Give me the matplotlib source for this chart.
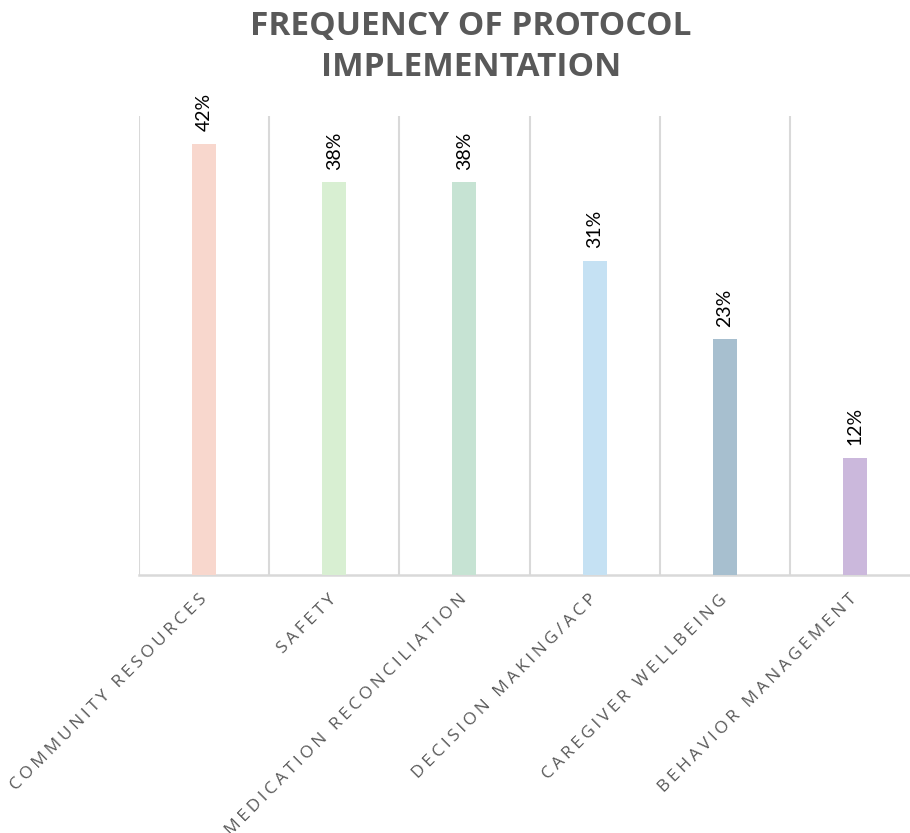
import matplotlib
matplotlib.use("Agg")
import matplotlib.pyplot as plt
import numpy as np

# Share of sessions in which each protocol was implemented (%)
categories = [
    "COMMUNITY RESOURCES",
    "SAFETY",
    "MEDICATION RECONCILIATION",
    "DECISION MAKING/ACP",
    "CAREGIVER WELLBEING",
    "BEHAVIOR MANAGEMENT",
]
values = [42.3, 38.5, 38.5, 30.8, 23.1, 11.5]
bar_colors = ["#F8D7CD", "#D8EFD2", "#C6E3D3", "#C5E1F3", "#A7BFCF", "#CBB8DC"]

GRID = "#D9D9D9"
TEXT = "#595959"
SPACE = "\u200a"


def spaced(s, n=1):
    return (SPACE * n).join(s)


fig = plt.figure(figsize=(9.10, 8.33), dpi=100)
ax = fig.add_axes([139 / 910, 1 - 575 / 833, 781 / 910, 459 / 833])

x = np.arange(len(categories))
ax.bar(x, values, width=0.184, color=bar_colors, zorder=3)

ax.set_xlim(-0.5, len(categories) - 0.5)
ax.set_ylim(0, 45)

# vertical separators between categories
for b in np.arange(-0.5, len(categories), 1.0):
    ax.axvline(b, color=GRID, lw=1.5, zorder=1)

for s in ax.spines.values():
    s.set_visible(False)
ax.axhline(0, color=GRID, lw=1.8, zorder=2, clip_on=False)

ax.set_yticks([])
ax.set_xticks(x)
ax.set_xticklabels([spaced(c, 2) for c in categories], rotation=45, ha="right",
                   rotation_mode="anchor", va="center",
                   fontsize=12.5, color=TEXT,
                   family=["Open Sans", "DejaVu Sans"])
ax.tick_params(axis="x", length=0, pad=16)

for xi, v in zip(x, values):
    ax.annotate(f"{v:.0f}%", (xi, v), xytext=(0, 9), textcoords="offset points",
                rotation=90, ha="center", va="bottom", fontsize=14,
                color="black", family="Lato")

fig.text(471 / 910, 1 - 10 / 833,
         "FREQUENCY OF PROTOCOL\nIMPLEMENTATION",
         ha="center", va="top", fontsize=24, fontweight="bold", color=TEXT,
         family=["Open Sans", "DejaVu Sans"], linespacing=1.32)

fig.savefig("out.png", dpi=100)
